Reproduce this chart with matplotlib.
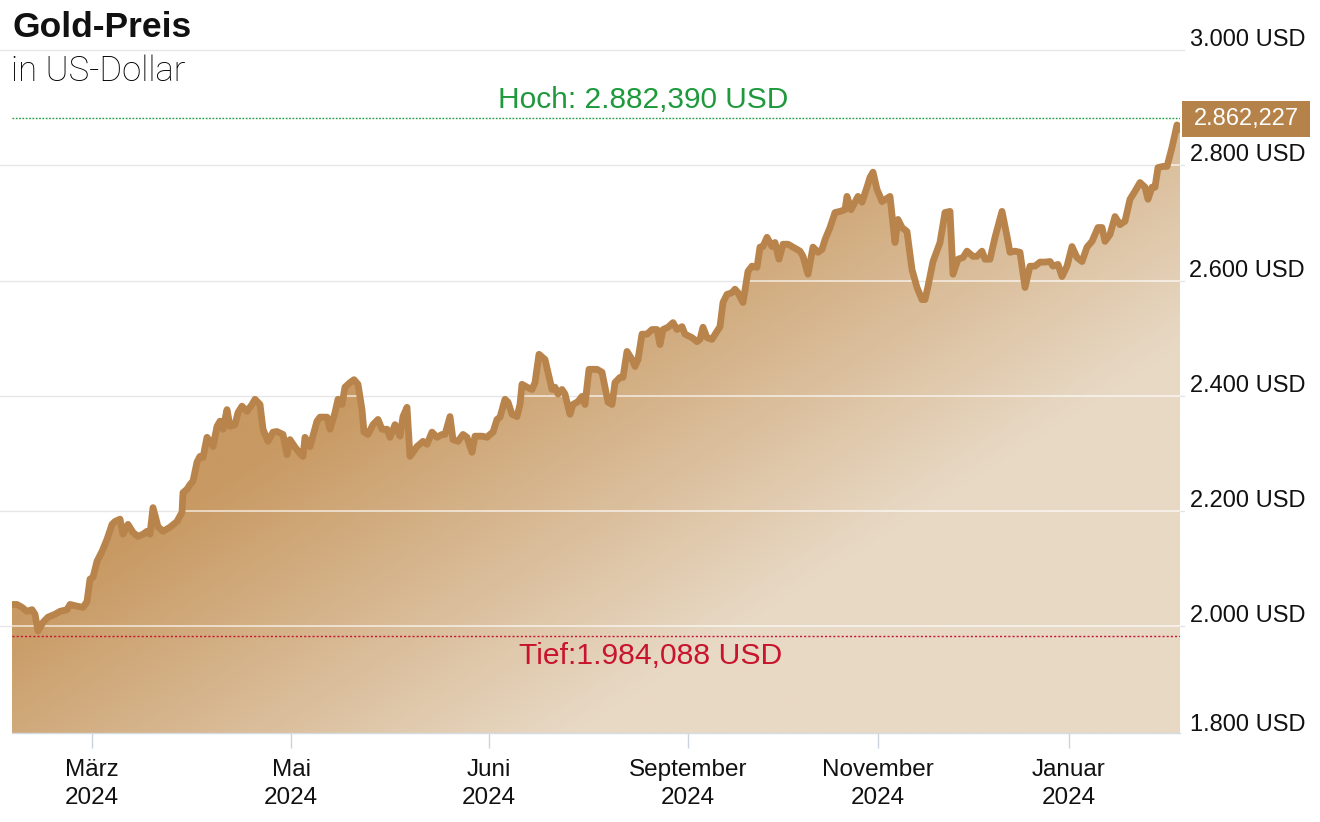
import matplotlib
matplotlib.use("Agg")
import matplotlib.pyplot as plt
import numpy as np
from matplotlib import transforms
from matplotlib.patches import Polygon, Rectangle

# ---------------- data ----------------
# x = trading-day index (approx.), y = gold price in USD
day = [0.0, 1.0, 2.0, 3.0, 4.0, 4.6, 5.2, 6.2, 7.2, 8.6, 9.6, 11.0, 11.6, 13.0, 14.2, 15.0,
       15.6, 16.2, 17.0, 18.0, 19.0, 20.0, 20.6, 21.6, 22.2, 23.2, 24.2, 25.2, 26.2, 27.0,
       27.6, 28.2, 29.2, 30.2, 31.6, 33.0, 34.0, 34.2, 35.0, 35.6, 36.2, 37.0, 37.6, 38.2,
       39.0, 39.6, 40.2, 41.0, 41.6, 42.2, 43.0, 43.6, 44.6, 45.2, 46.0, 47.0, 48.0, 48.6,
       49.6, 50.2, 51.2, 52.2, 53.0, 54.2, 55.0, 55.6, 56.6, 57.6, 58.2, 58.6, 59.6, 61.0,
       61.6, 63.0, 63.6, 64.6, 65.2, 66.0, 66.6, 67.6, 68.4, 69.2, 70.0, 70.4, 71.2, 72.2,
       73.2, 74.0, 75.0, 75.6, 76.6, 77.6, 78.2, 79.0, 79.6, 81.0, 82.2, 83.0, 84.0, 85.0,
       86.0, 86.6, 87.6, 88.2, 89.2, 90.2, 91.0, 92.0, 92.6, 94.0, 95.0, 95.6, 96.2, 97.0,
       97.6, 98.6, 99.2, 100.0, 101.0, 101.6, 102.0, 103.0, 104.0, 104.6, 105.4, 106.6,
       107.2, 108.0, 108.6, 109.2, 110.0, 110.6, 111.6, 112.2, 113.2, 114.0, 114.6, 115.4,
       117.0, 118.0, 119.2, 120.0, 120.6, 121.6, 122.2, 123.0, 124.0, 124.6, 125.2, 126.0,
       127.0, 128.0, 129.0, 129.6, 130.2, 131.2, 132.2, 133.0, 134.0, 134.6, 136.0, 137.0,
       137.6, 138.2, 139.0, 140.0, 141.0, 141.6, 142.2, 143.0, 144.0, 144.6, 145.2, 146.2,
       147.2, 148.0, 149.0, 149.6, 150.2, 151.0, 152.0, 152.6, 153.4, 154.2, 155.2, 156.2,
       157.6, 158.2, 159.2, 160.2, 161.2, 162.0, 162.6, 163.6, 164.6, 165.6, 166.6, 167.0,
       167.8, 168.6, 169.2, 170.0, 171.0, 171.6, 172.2, 173.0, 173.6, 174.0, 175.6, 176.6,
       177.2, 178.0, 179.0, 180.0, 181.0, 182.0, 182.6, 183.2, 184.2, 185.6, 186.6, 187.6,
       188.2, 189.2, 190.2, 191.0, 192.2, 193.0, 194.0, 194.6, 195.6, 196.6, 198.0, 199.0,
       199.6, 200.6, 201.6, 202.6, 203.6, 204.6, 205.6, 206.6, 207.6, 208.2, 209.2, 210.0,
       211.0, 212.0, 213.0, 214.0, 215.0, 216.0, 217.2, 218.0, 218.6, 219.6, 220.6, 221.6,
       222.6, 223.6, 224.6, 225.6, 226.6, 227.2, 228.0, 228.6, 229.2, 230.2, 231.0, 232.0,
       233.0, 233.6]

price = [2038, 2038, 2033, 2026, 2029, 2021, 1992, 2007, 2016, 2021, 2026, 2029, 2038, 2035,
         2033, 2043, 2082, 2085, 2113, 2130, 2151, 2177, 2182, 2186, 2160, 2177, 2163, 2156,
         2160, 2165, 2160, 2206, 2173, 2165, 2172, 2182, 2198, 2232, 2238, 2246, 2252, 2285,
         2295, 2293, 2328, 2321, 2312, 2347, 2356, 2342, 2376, 2347, 2350, 2371, 2382, 2373,
         2385, 2394, 2385, 2342, 2321, 2337, 2338, 2333, 2298, 2324, 2311, 2300, 2295, 2328,
         2312, 2356, 2363, 2363, 2342, 2371, 2394, 2385, 2415, 2423, 2428, 2420, 2376, 2337,
         2333, 2350, 2359, 2342, 2342, 2328, 2350, 2330, 2364, 2380, 2295, 2312, 2321, 2316,
         2337, 2328, 2333, 2333, 2364, 2324, 2321, 2333, 2328, 2302, 2330, 2330, 2328, 2333,
         2337, 2359, 2363, 2394, 2389, 2368, 2364, 2385, 2420, 2415, 2411, 2423, 2472, 2463,
         2441, 2411, 2415, 2403, 2411, 2403, 2368, 2385, 2390, 2399, 2385, 2446, 2446, 2441,
         2389, 2385, 2423, 2432, 2432, 2477, 2463, 2451, 2463, 2507, 2507, 2515, 2515, 2489,
         2515, 2519, 2527, 2515, 2520, 2507, 2501, 2494, 2498, 2519, 2501, 2498, 2512, 2520,
         2562, 2576, 2579, 2585, 2579, 2562, 2616, 2625, 2623, 2658, 2659, 2675, 2659, 2666,
         2637, 2663, 2663, 2658, 2651, 2642, 2611, 2658, 2649, 2654, 2671, 2692, 2718, 2720,
         2723, 2746, 2723, 2736, 2746, 2736, 2762, 2779, 2788, 2758, 2746, 2737, 2746, 2666,
         2706, 2692, 2685, 2619, 2588, 2567, 2567, 2590, 2633, 2666, 2718, 2720, 2611, 2637,
         2640, 2651, 2642, 2642, 2651, 2637, 2637, 2675, 2720, 2677, 2649, 2651, 2649, 2588,
         2625, 2625, 2632, 2632, 2633, 2625, 2628, 2607, 2625, 2659, 2640, 2633, 2658, 2668,
         2692, 2692, 2668, 2680, 2711, 2697, 2703, 2741, 2755, 2770, 2762, 2741, 2762, 2762,
         2796, 2798, 2798, 2831, 2870, 2862]

tick_pos = [16.0, 55.8, 95.4, 135.2, 173.2, 211.4]
tick_labels = ["März\n2024", "Mai\n2024", "Juni\n2024", "September\n2024",
               "November\n2024", "Januar\n2024"]
y_ticks = [1800, 2000, 2200, 2400, 2600, 2800, 3000]
y_tick_labels = ["1.800 USD", "2.000 USD", "2.200 USD", "2.400 USD", "2.600 USD",
                 "2.800 USD", "3.000 USD"]
high_value = 2882.390
low_value = 1984.088
last_value = 2862.227
high_label = "Hoch: 2.882,390 USD"
low_label = "Tief:1.984,088 USD"
last_label = "2.862,227"
title = "Gold-Preis"
subtitle = "in US-Dollar"

# ---------------- style ----------------
FONT = ["Liberation Sans", "DejaVu Sans"]
plt.rcParams["font.family"] = FONT
LINE_C = "#b8844b"
DARK = np.array([200, 153, 98]) / 255
LIGHT = np.array([232, 217, 197]) / 255
GREEN = "#1e9a3d"
RED = "#c8142c"

W, H = 1320, 822
fig = plt.figure(figsize=(W / 100, H / 100), dpi=100)
ax = fig.add_axes([12 / W, 89 / H, 1168 / W, 683 / H])
x0, x1 = 0, day[-1]
ymin, ymax = 1815, 3000
ax.set_xlim(x0, x1)
ax.set_ylim(ymin, ymax)

# diagonal gradient fill clipped to the area under the line
verts = [(day[0], ymin)] + list(zip(day, price)) + [(day[-1], ymin)]
poly = Polygon(verts, closed=True, facecolor="none", edgecolor="none")
ax.add_patch(poly)
nr, nc = 400, 600
u = np.linspace(0, 1, nc)[None, :]
v = np.linspace(0, 1, nr)[:, None]          # 0 = top, 1 = bottom
t = np.clip((467 * u + 430 * v - 354) / 300, 0, 1)
img = DARK[None, None, :] + t[:, :, None] * (LIGHT - DARK)[None, None, :]
im = ax.imshow(img, extent=[x0, x1, ymin, ymax], origin="upper", aspect="auto",
               zorder=1, interpolation="bilinear")
im.set_clip_path(poly)

# gridlines
for yv in y_ticks[1:]:
    ax.axhline(yv, xmin=-0.012, xmax=1.003, color="#e6e6e6", lw=1.0, zorder=0.5, clip_on=False)
    gl = ax.axhline(yv, color="white", alpha=0.7, lw=1.2, zorder=2)
    gl.set_clip_path(poly)

# high / low reference lines
ax.axhline(high_value, color=GREEN, lw=1.0, ls=(0, (1.2, 1.2)), zorder=3)
ax.axhline(low_value, color=RED, lw=1.0, ls=(0, (1.5, 1.5)), zorder=3)
ax.text(0.540, 0.927, high_label, transform=ax.transAxes, ha="center", va="center",
        color=GREEN, fontsize=21.5)
ax.text(0.547, 0.113, low_label, transform=ax.transAxes, ha="center", va="center",
        color=RED, fontsize=21.7)

# price line
ax.plot(day, price, color=LINE_C, lw=4.9, solid_joinstyle="round",
        solid_capstyle="round", zorder=4)

# axes styling
for s in ["top", "left", "right"]:
    ax.spines[s].set_visible(False)
ax.spines["bottom"].set_color("#d3dbe3")
ax.spines["bottom"].set_linewidth(1.0)
ax.set_yticks([])
ax.set_xticks(tick_pos)
ax.set_xticklabels(tick_labels, fontsize=17.5)
for lbl in ax.get_xticklabels():
    lbl.set_linespacing(1.32)
ax.tick_params(axis="x", length=11, width=1, color="#c9d4df", pad=8, labelcolor="#111111")

# right-side y labels
for yv, lab in zip(y_ticks, y_tick_labels):
    off = 17 if yv < ymin else 10
    tr = transforms.blended_transform_factory(fig.transFigure, ax.transData) + \
        transforms.ScaledTranslation(0, off / 100, fig.dpi_scale_trans)
    fig.text(1305 / W, yv, lab, transform=tr, ha="right", va="center",
             fontsize=17, color="#111111")

# last value box
fig.patches.append(Rectangle((1182 / W, (H - 137) / H), 128 / W, 36 / H,
                             transform=fig.transFigure, facecolor="#b5834a",
                             edgecolor="none", zorder=5))
fig.text(1246 / W, (H - 119) / H, last_label, ha="center", va="center",
         color="white", fontsize=17, zorder=6)

# titles
fig.text(12 / W, (H - 37) / H, title, fontsize=25.5, fontweight="bold",
         ha="left", va="baseline", color="#111111")
fig.text(11 / W, (H - 81) / H, subtitle, fontsize=25, ha="left", va="baseline",
         color="#000000", family=["Roboto", "Liberation Sans"], fontweight="light")

fig.savefig("out.png", dpi=100)
